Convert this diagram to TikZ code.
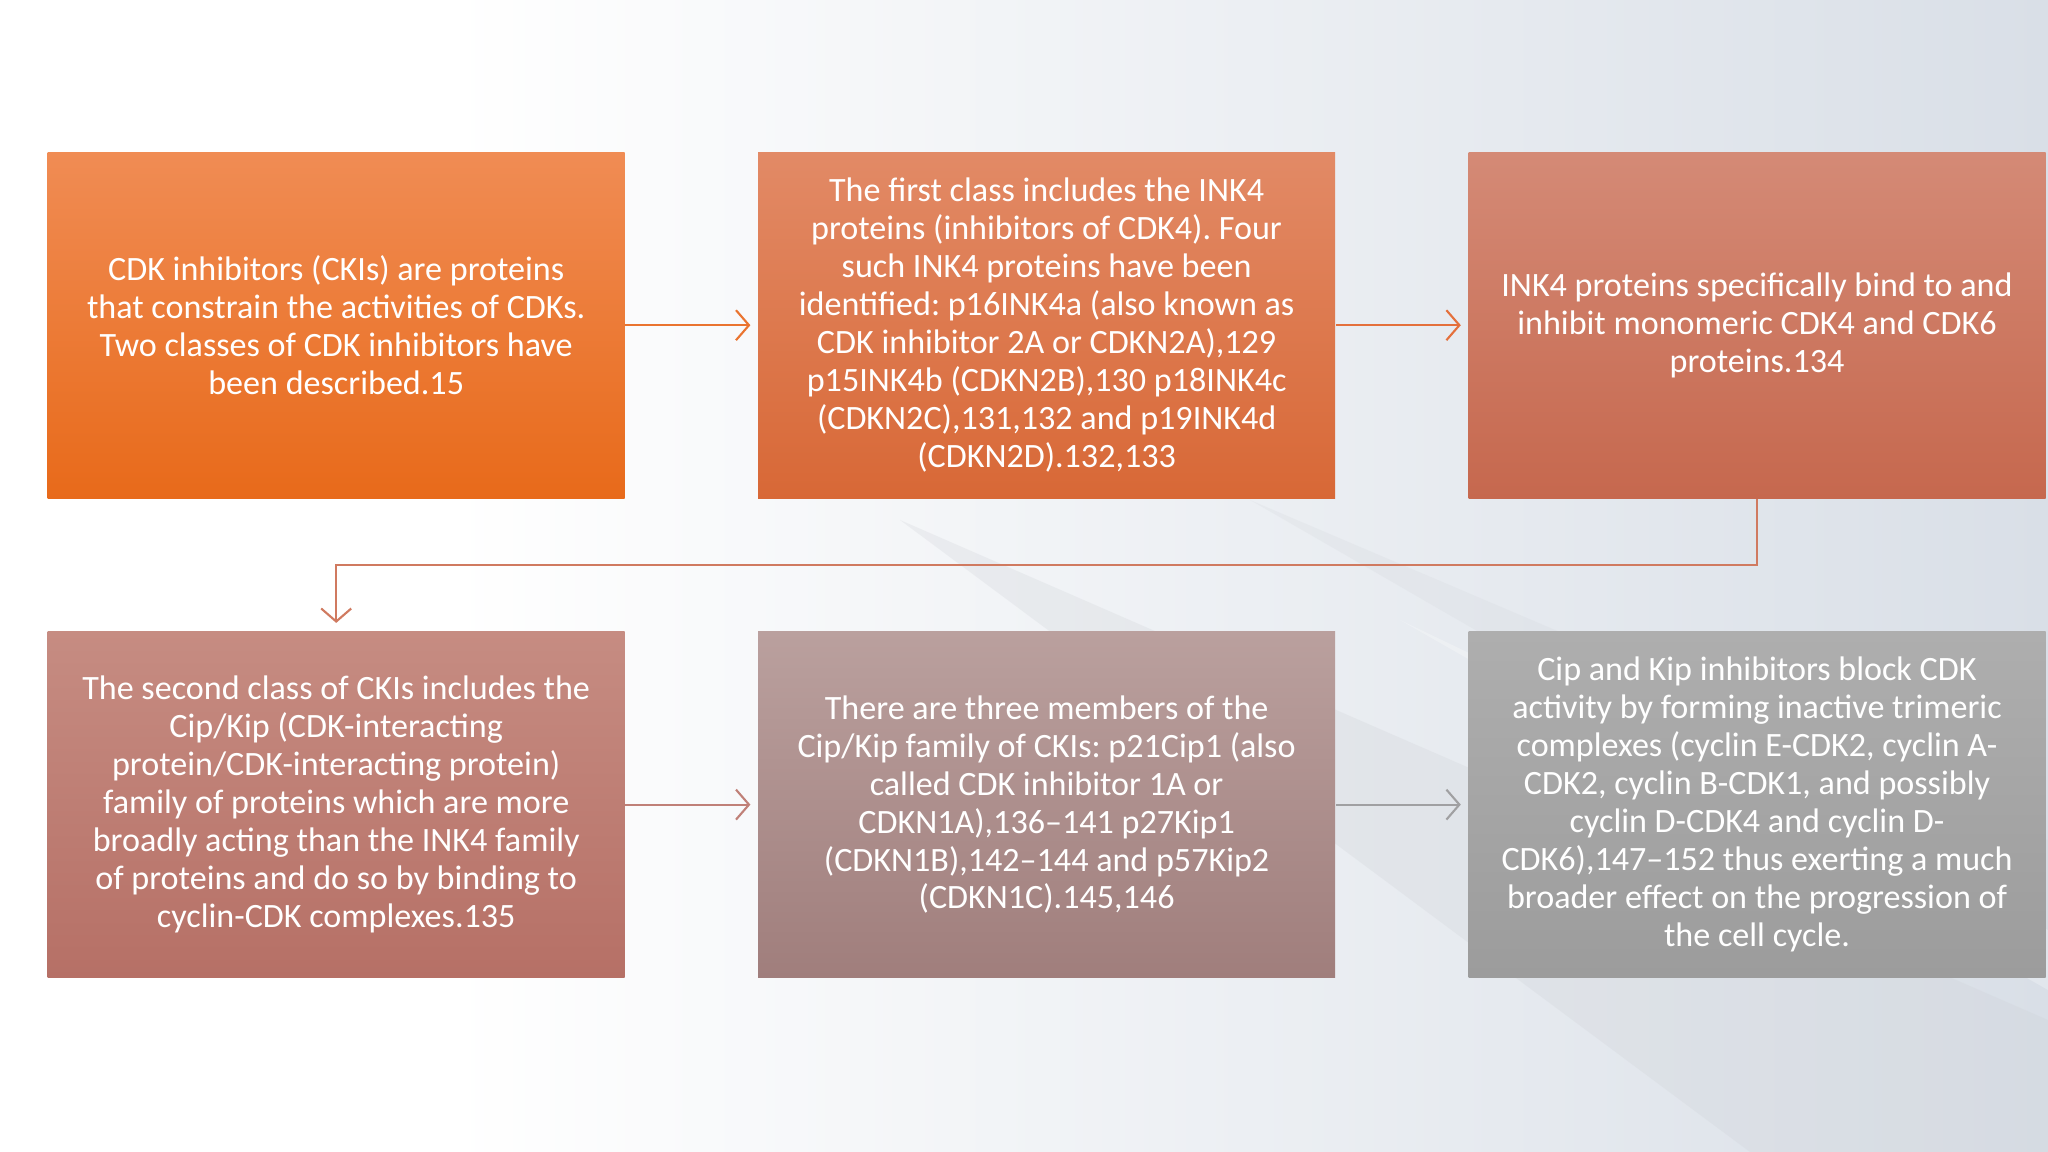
\documentclass[tikz,border=0pt]{standalone}
\usepackage{fontspec}
\setmainfont{Carlito}
\usetikzlibrary{positioning,arrows.meta}
\frenchspacing

\definecolor{bgright}{HTML}{D9DFE7}
\definecolor{streak}{HTML}{CDD0D5}

\begin{document}
\begin{tikzpicture}[font=\fontsize{9.7}{10.8}\selectfont,
    cardbox/.style={minimum width=\boxwidth cm, minimum height=\boxheight cm,
      inner sep=0pt, align=center, text=white},
    link/.style={line width=0.6pt, -{Straight Barb[length=1.3mm,width=3mm]}},
    node distance=\boxgap cm and \boxgap cm]
    % Define the sizes of the boxes
    \def\boxwidth{5.77}
    \def\boxheight{3.46}
    \def\boxgap{1.32}

    % Background of the slide
    \useasboundingbox (0,0) rectangle (20.48,-11.52);
    \fill[white] (0,0) rectangle (20.48,-11.52);
    \fill[left color=white, right color=bgright] (4.5,0) rectangle (20.48,-11.52);
    \fill[streak, opacity=0.25] (9,-5.2) -- (20.48,-10.2) -- (20.48,-11.52) -- (17.5,-11.52) -- cycle;
    \fill[streak, opacity=0.18] (12.5,-5.0) -- (20.48,-8.4) -- (20.48,-9.6) -- cycle;
    \fill[white, opacity=0.25] (14,-6.2) -- (20.48,-9.3) -- (20.48,-9.9) -- cycle;

    % Draw the boxes
    \node[cardbox, anchor=north west, top color={rgb,255:red,240;green,140;blue,84}, bottom color={rgb,255:red,232;green,106;blue,26}]
      (cki) at (0.47,-1.515) {CDK inhibitors (CKIs) are proteins\\that constrain the activities of CDKs.\\Two classes of CDK inhibitors have\\been described.15};
    \node[cardbox, right=of cki, top color={rgb,255:red,226;green,138;blue,102}, bottom color={rgb,255:red,216;green,104;blue,54}]
      (inkfirst) {The first class includes the INK4\\proteins (inhibitors of CDK4). Four\\such INK4 proteins have been\\identified: p16INK4a (also known as\\CDK inhibitor 2A or CDKN2A),129\\p15INK4b (CDKN2B),130 p18INK4c\\(CDKN2C),131,132 and p19INK4d\\(CDKN2D).132,133};
    \node[cardbox, right=of inkfirst, top color={rgb,255:red,212;green,138;blue,118}, bottom color={rgb,255:red,198;green,104;blue,78}]
      (inkbind) {INK4 proteins specifically bind to and\\inhibit monomeric CDK4 and CDK6\\proteins.134};

    \node[cardbox, below=of cki, top color={rgb,255:red,198;green,140;blue,130}, bottom color={rgb,255:red,182;green,112;blue,102}]
      (cipsecond) {The second class of CKIs includes the\\Cip/Kip (CDK-interacting\\protein/CDK-interacting protein)\\family of proteins which are more\\broadly acting than the INK4 family\\of proteins and do so by binding to\\cyclin-CDK complexes.135};
    \node[cardbox, right=of cipsecond, top color={rgb,255:red,186;green,160;blue,158}, bottom color={rgb,255:red,160;green,126;blue,124}]
      (cipmembers) {There are three members of the\\Cip/Kip family of CKIs: p21Cip1 (also\\called CDK inhibitor 1A or\\CDKN1A),136–141 p27Kip1\\(CDKN1B),142–144 and p57Kip2\\(CDKN1C).145,146};
    \node[cardbox, right=of cipmembers, top color={rgb,255:red,174;green,174;blue,174}, bottom color={rgb,255:red,156;green,156;blue,156}]
      (cipblock) {Cip and Kip inhibitors block CDK\\activity by forming inactive trimeric\\complexes (cyclin E-CDK2, cyclin A-\\CDK2, cyclin B-CDK1, and possibly\\cyclin D-CDK4 and cyclin D-\\CDK6),147–152 thus exerting a much\\broader effect on the progression of\\the cell cycle.};

    % Add arrows between the boxes
    \draw[link, color={rgb,255:red,234;green,116;blue,48}] (cki.east) -- ([xshift=-0.07cm]inkfirst.west);
    \draw[link, color={rgb,255:red,228;green,112;blue,60}] (inkfirst.east) -- ([xshift=-0.07cm]inkbind.west);
    \draw[link, color={rgb,255:red,208;green,122;blue,96}] (inkbind.south) -- ++(0,-0.665) -| ([yshift=0.08cm]cipsecond.north);
    \draw[link, color={rgb,255:red,192;green,128;blue,120}] (cipsecond.east) -- ([xshift=-0.07cm]cipmembers.west);
    \draw[link, color={rgb,255:red,160;green,160;blue,162}] (cipmembers.east) -- ([xshift=-0.07cm]cipblock.west);
\end{tikzpicture}
\end{document}
